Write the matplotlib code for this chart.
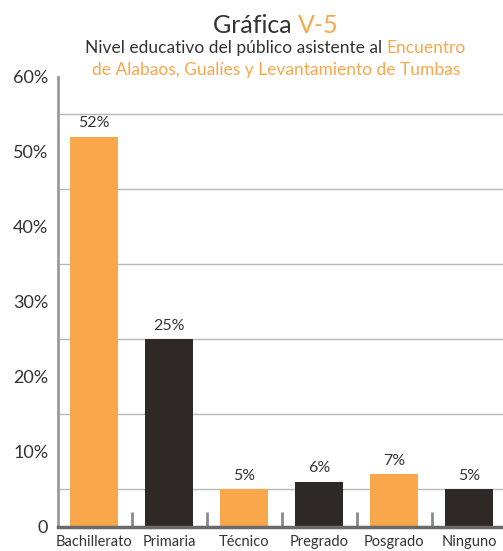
import numpy as np
import matplotlib.pyplot as plt
from matplotlib.ticker import FixedLocator

plt.rcParams['font.family'] = ['Lato', 'DejaVu Sans']

# datos
categorias = ['Bachillerato', 'Primaria', 'Técnico', 'Pregrado', 'Posgrado', 'Ninguno']
valores = [52, 25, 5, 6, 7, 5]

naranja = '#F9A74B'
oscuro = '#2E2926'
colores = [naranja, oscuro, naranja, oscuro, naranja, oscuro]
texto = '#333333'

fig = plt.figure(figsize=(5.03, 5.51), dpi=100)
ax = fig.add_axes([0.1153, 0.0436, 0.8847, 0.8167])

x = np.arange(len(categorias))
ax.bar(x, valores, width=0.64, color=colores, zorder=3)

for xi, v in zip(x, valores):
    ax.annotate(f'{v}%', xy=(xi, v), xytext=(0, 5), textcoords='offset points',
                ha='center', va='bottom', fontsize=11.5, color=texto)

ax.set_xlim(-0.48, 5.453)
ax.set_ylim(0, 60)

# lineas de guia cada 5%, etiquetas cada 10%
ax.yaxis.set_major_locator(FixedLocator([0, 10, 20, 30, 40, 50, 60]))
ax.yaxis.set_minor_locator(FixedLocator(np.arange(5, 60, 5)))
ax.set_yticklabels(['0', '10%', '20%', '30%', '40%', '50%', '60%'])
ax.grid(axis='y', which='minor', color='#b8b8b8', linewidth=1, zorder=0)
ax.tick_params(axis='y', which='both', length=0, pad=7, labelsize=13, labelcolor=texto)

ax.set_xticks(x)
ax.set_xticklabels(categorias)
ax.xaxis.set_minor_locator(FixedLocator(x[:-1] + 0.5))
ax.tick_params(axis='x', which='major', length=0, pad=6, labelsize=10.5, labelcolor=texto)
ax.tick_params(axis='x', which='minor', direction='in', length=11, width=2, color='#8a8a8a')

for s in ['top', 'right']:
    ax.spines[s].set_visible(False)
ax.spines['left'].set_color('#9a9a9a')
ax.spines['left'].set_linewidth(2)
ax.spines['bottom'].set_color('#6a6a6a')
ax.spines['bottom'].set_linewidth(2.5)
ax.spines['bottom'].set_zorder(4)


def linea_color(partes, y, size, cx=0.548):
    # escribe una linea con tramos de distinto color, centrada en cx
    r = fig.canvas.get_renderer()
    objs = [fig.text(0, y, t, color=c, fontsize=size, va='baseline') for t, c in partes]
    anchos = [o.get_window_extent(r).width / fig.bbox.width for o in objs]
    x0 = cx - sum(anchos) / 2
    for o, w in zip(objs, anchos):
        o.set_x(x0)
        x0 += w


linea_color([('Gráfica ', texto), ('V-5', naranja)], 1 - 33 / 551, 18)
linea_color([('Nivel educativo del público asistente al ', texto), ('Encuentro', naranja)],
            1 - 53 / 551, 12.5)
linea_color([('de Alabaos, Gualíes y Levantamiento de Tumbas', naranja)], 1 - 75 / 551, 12.5)

plt.savefig('out.png', dpi=100)
